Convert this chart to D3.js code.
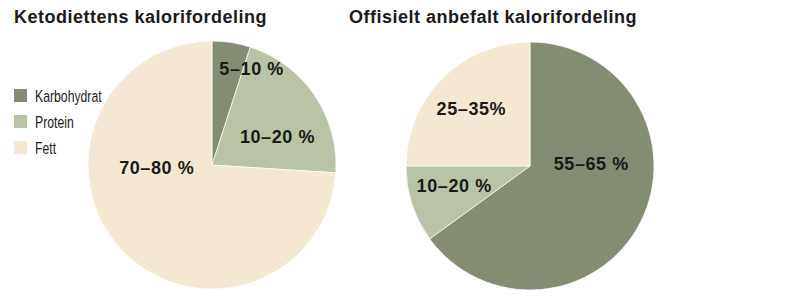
<!DOCTYPE html>
<html>
<head>
<meta charset="utf-8">
<script src="https://cdn.jsdelivr.net/npm/d3@7"></script>
<style>
  body { margin: 0; background: #fff; }
  svg { display: block; }
</style>
</head>
<body>
<div id="chart"></div>
<script>
// data
const categories = ["Karbohydrat", "Protein", "Fett"];
const ketoValues = [5, 21, 74];
const ketoLabels = ["5–10 %", "10–20 %", "70–80 %"];
const officialValues = [65, 10, 25];
const officialLabels = ["55–65 %", "10–20 %", "25–35%"];
const titles = ["Ketodiettens kalorifordeling", "Offisielt anbefalt kalorifordeling"];

const WIDTH = 800, HEIGHT = 300;
const RADIUS = 124;

const color = d3.scaleOrdinal()
  .domain(categories)
  .range(["#838d74", "#b9c3a6", "#f4e8d2"]);

const svg = d3.select("#chart").append("svg")
  .attr("width", WIDTH)
  .attr("height", HEIGHT);

const pie = d3.pie().sort(null);
const arc = d3.arc().innerRadius(0).outerRadius(RADIUS);
const labelArc = d3.arc().innerRadius(RADIUS * 0.6).outerRadius(RADIUS * 0.6);

function drawPie(cx, cy, values, labels, nudges) {
  let g = svg.append("g").attr("transform", `translate(${cx},${cy})`);
  let arcs = pie(values);

  g.selectAll("path")
    .data(arcs)
    .join("path")
    .attr("d", arc)
    .attr("fill", (d, i) => color(categories[i]))
    .attr("stroke", "#fff")
    .attr("stroke-width", 0.7);

  g.selectAll("text")
    .data(arcs)
    .join("text")
    .attr("x", (d, i) => labelArc.centroid(d)[0] + nudges[i][0])
    .attr("y", (d, i) => labelArc.centroid(d)[1] + nudges[i][1])
    .attr("text-anchor", "middle")
    .attr("dominant-baseline", "central")
    .attr("font-family", "Liberation Sans, Arial, sans-serif")
    .attr("font-weight", "bold")
    .attr("font-size", "18px")
    .attr("letter-spacing", "0.6px")
    .attr("fill", "#1a1a1a")
    .text((d, i) => labels[i]);
}

// label nudges away from the centroid, in px
drawPie(212, 165, ketoValues, ketoLabels, [[28, -23], [4, 14], [-1, -48]]);
drawPie(530, 166, officialValues, officialLabels, [[-5, -36], [-5, -3], [-6, -4]]);

// titles
svg.selectAll(".title")
  .data(titles)
  .join("text")
  .attr("class", "title")
  .attr("x", (d, i) => i === 0 ? 14 : 349)
  .attr("y", 23)
  .attr("font-family", "Liberation Sans, Arial, sans-serif")
  .attr("font-weight", "bold")
  .attr("font-size", "18px")
  .attr("letter-spacing", "0.5px")
  .attr("fill", "#1a1a1a")
  .text(d => d);

// legend
let legend = svg.append("g").attr("transform", "translate(14,89)");
let rows = legend.selectAll("g")
  .data(categories)
  .join("g")
  .attr("transform", (d, i) => `translate(0,${i * 26})`);

rows.append("rect")
  .attr("width", 13)
  .attr("height", 13)
  .attr("fill", d => color(d));

// condensed look: squeeze the text horizontally
rows.append("text")
  .attr("transform", "translate(21,12.5) scale(0.72,1)")
  .attr("font-family", "Liberation Sans, Arial, sans-serif")
  .attr("font-size", "17px")
  .attr("fill", "#1a1a1a")
  .text(d => d);
</script>
</body>
</html>
